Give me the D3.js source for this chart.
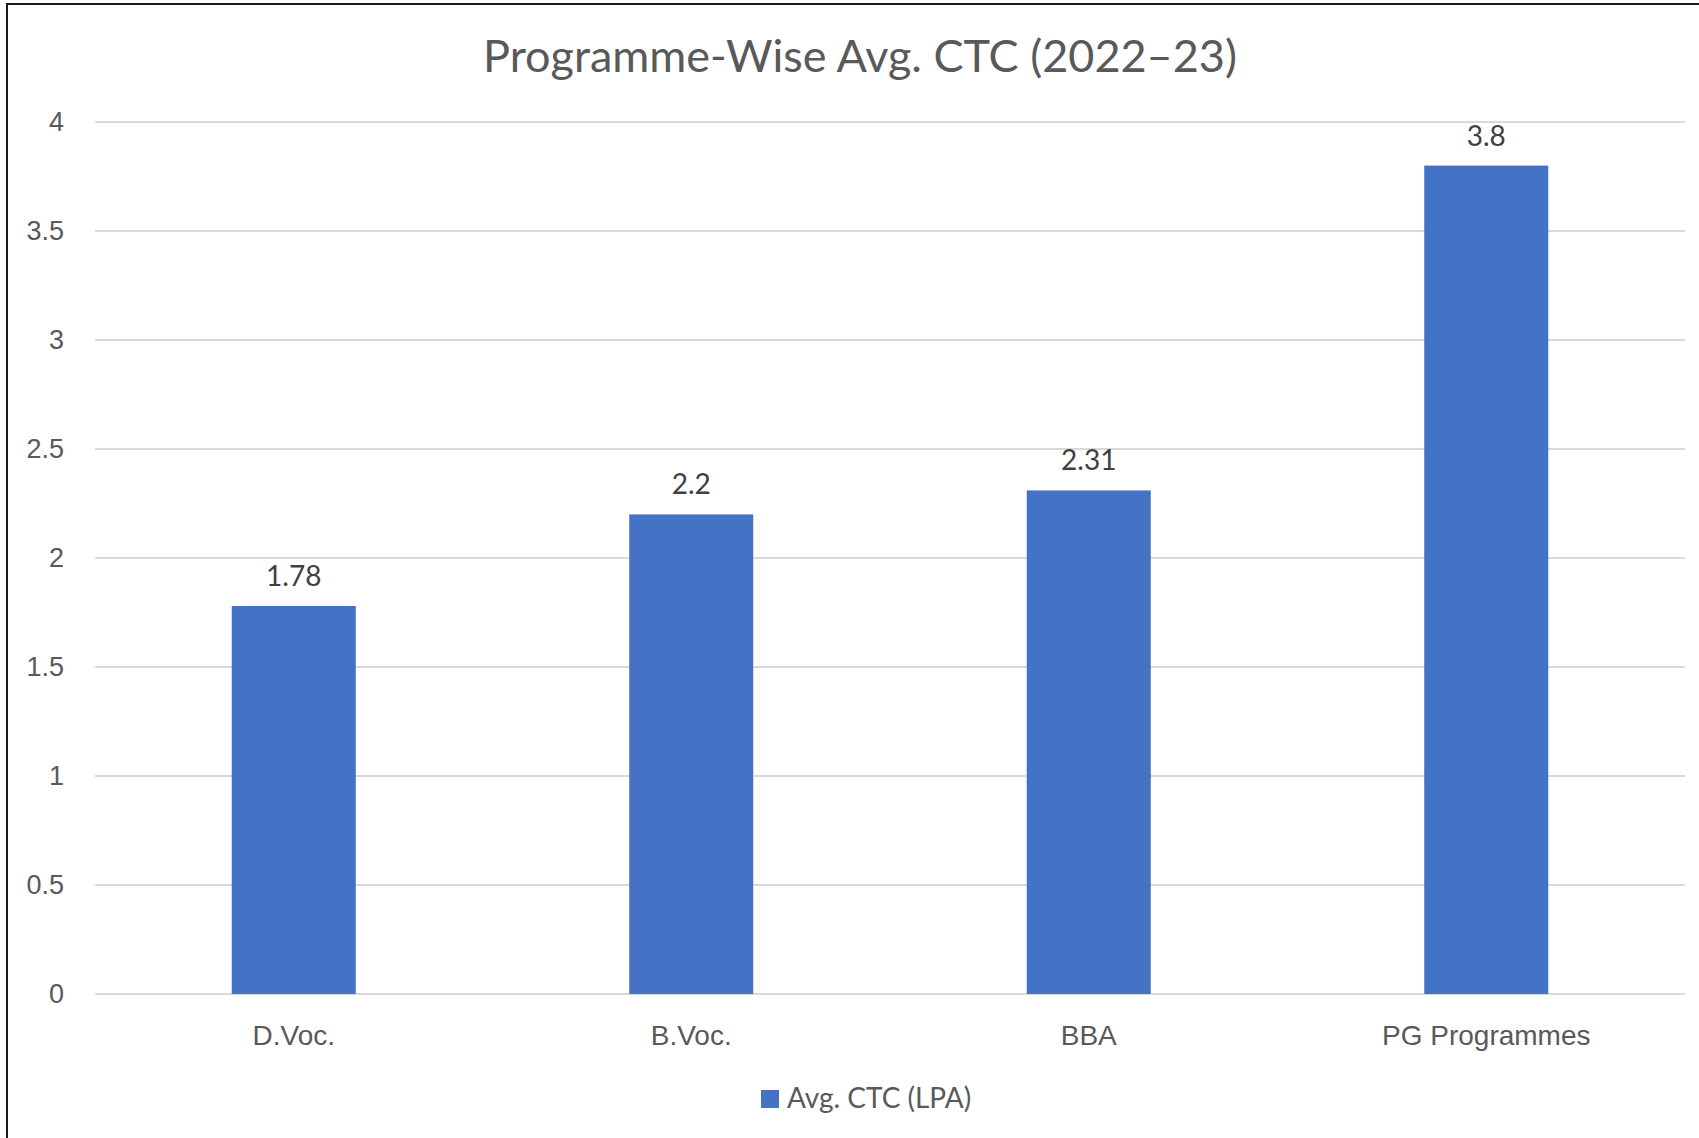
<!DOCTYPE html>
<html>
<head>
<meta charset="utf-8">
<script src="https://cdn.jsdelivr.net/npm/d3@7"></script>
<style>
  body { margin: 0; background: #fff; }
  svg { display: block; font-family: Lato, "Open Sans", sans-serif; }
</style>
</head>
<body>
<div id="chart"></div>
<script>
// data
const programmes = ['D.Voc.', 'B.Voc.', 'BBA', 'PG Programmes'];
const avgCtc = [1.78, 2.2, 2.31, 3.8];
const yTicks = [0, 0.5, 1, 1.5, 2, 2.5, 3, 3.5, 4];
const seriesName = 'Avg. CTC (LPA)';
const chartTitle = 'Programme-Wise Avg. CTC (2022\u201323)';

const width = 1699;
const height = 1138;
const margin = {top: 122, left: 95, bottom: 144, right: 14};
const barColor = '#4472C4';

const data = programmes.map((p, i) => ({name: p, value: avgCtc[i]}));

const x = d3.scaleBand()
  .domain(programmes)
  .range([margin.left, width - margin.right]);

const y = d3.scaleLinear()
  .domain([0, 4])
  .range([height - margin.bottom, margin.top]);

const barW = x.bandwidth() * 0.312;

const svg = d3.select('#chart').append('svg')
  .attr('width', width)
  .attr('height', height);

// chart frame (left + top edge only visible)
svg.append('path')
  .attr('d', `M7,${height + 5} V4 H${width + 5}`)
  .attr('fill', 'none')
  .attr('stroke', '#1a1a1a')
  .attr('stroke-width', 2);

// title
svg.append('text')
  .attr('x', 860)
  .attr('y', 72)
  .attr('text-anchor', 'middle')
  .attr('fill', '#595959')
  .attr('font-size', 45)
  .text(chartTitle);

// gridlines
svg.append('g')
  .selectAll('line').data(yTicks).enter().append('line')
  .attr('x1', margin.left)
  .attr('x2', width - margin.right)
  .attr('y1', d => y(d))
  .attr('y2', d => y(d))
  .attr('stroke', '#d9d9d9')
  .attr('stroke-width', 2);

// y axis labels
const yAxis = g => g
  .attr('transform', `translate(${margin.left}, 0)`)
  .call(d3.axisLeft(y).tickValues(yTicks).tickSize(0).tickPadding(31).tickFormat(d3.format('')))
  .call(g => g.select('.domain').remove())
  .call(g => g.selectAll('text')
    .attr('fill', '#595959')
    .attr('font-size', 27)
    .attr('font-family', null));
svg.append('g').call(yAxis);

// x axis labels
const xAxis = g => g
  .attr('transform', `translate(0, ${y(0)})`)
  .call(d3.axisBottom(x).tickSize(0).tickPadding(0))
  .call(g => g.select('.domain').remove())
  .call(g => g.selectAll('text')
    .attr('fill', '#595959')
    .attr('font-size', 28)
    .attr('font-family', null)
    .attr('dy', 51));
svg.append('g').call(xAxis);

// bars
svg.append('g')
  .attr('fill', barColor)
  .selectAll('rect').data(data).enter().append('rect')
  .attr('x', d => x(d.name) + x.bandwidth() / 2 - barW / 2)
  .attr('y', d => y(d.value))
  .attr('width', barW)
  .attr('height', d => y(0) - y(d.value));

// data labels
svg.append('g')
  .selectAll('text').data(data).enter().append('text')
  .attr('x', d => x(d.name) + x.bandwidth() / 2)
  .attr('y', d => y(d.value) - 20)
  .attr('text-anchor', 'middle')
  .attr('fill', '#404040')
  .attr('font-size', 28)
  .text(d => d.value);

// legend
const legend = svg.append('g').attr('transform', 'translate(761, 1090)');
legend.append('rect')
  .attr('width', 18)
  .attr('height', 18)
  .attr('fill', barColor);
legend.append('text')
  .attr('x', 26)
  .attr('y', 18)
  .attr('fill', '#595959')
  .attr('font-size', 28)
  .text(seriesName);
</script>
</body>
</html>
